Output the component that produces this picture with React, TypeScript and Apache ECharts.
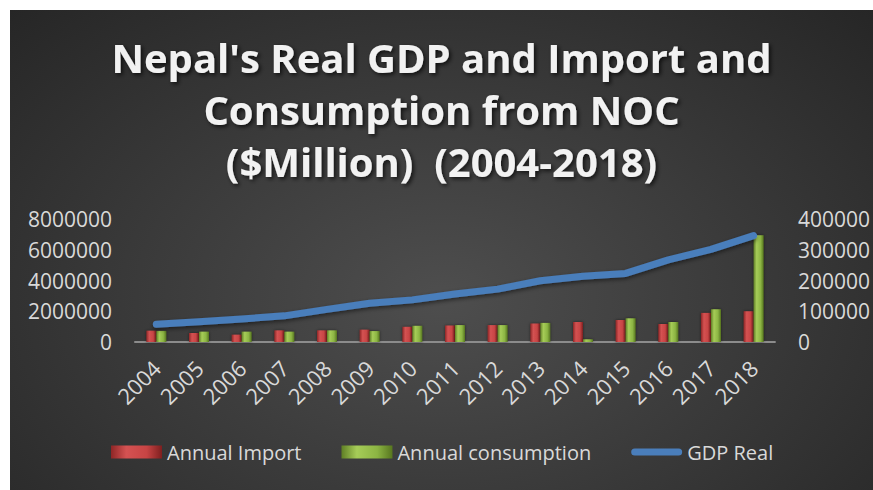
import React, { useEffect, useRef } from "react";
import * as echarts from "echarts";

const years = ["2004","2005","2006","2007","2008","2009","2010","2011","2012","2013","2014","2015","2016","2017","2018"];
const annualImport = [735000, 585000, 475000, 755000, 755000, 800000, 985000, 1070000, 1100000, 1200000, 1300000, 1430000, 1170000, 1890000, 2000000];
const annualConsumption = [720000, 670000, 670000, 670000, 755000, 710000, 1050000, 1100000, 1100000, 1240000, 175000, 1540000, 1300000, 2130000, 6940000];
const gdpReal = [57500, 66000, 75000, 85000, 106000, 126000, 137000, 156000, 172000, 199000, 214000, 223000, 267000, 301000, 346000];
const leftTicks = { min: 0, max: 8000000, interval: 2000000 };
const rightTicks = { min: 0, max: 400000, interval: 100000 };

const FONT = "'Open Sans', 'Noto Sans', sans-serif";
const TXT = "#d9d9d9";

export default function App() {
  const ref = useRef<HTMLDivElement>(null);
  useEffect(() => {
    if (!ref.current) return;
    const chart = echarts.init(ref.current, null, { renderer: "svg" });
    const redGrad = new echarts.graphic.LinearGradient(0, 0, 1, 0, [
      { offset: 0, color: "#8e2626" },
      { offset: 0.3, color: "#d45252" },
      { offset: 0.7, color: "#c84444" },
      { offset: 1, color: "#7e1f1f" },
    ]);
    const greenGrad = new echarts.graphic.LinearGradient(0, 0, 1, 0, [
      { offset: 0, color: "#5f7f25" },
      { offset: 0.3, color: "#a6cc58" },
      { offset: 0.7, color: "#8cb543" },
      { offset: 1, color: "#57761f" },
    ]);
    chart.setOption({
      animation: false,
      backgroundColor: "transparent",
      textStyle: { fontFamily: FONT },
      title: {
        text: "Nepal's Real GDP and Import and\nConsumption from NOC\n($Million)  (2004-2018)",
        left: "center",
        top: 21,
        padding: 0,
        textStyle: {
          fontFamily: FONT,
          fontSize: 40,
          fontWeight: "bold",
          color: "#f2f2f2",
          lineHeight: 52,
          textShadowColor: "rgba(0,0,0,0.7)",
          textShadowBlur: 4,
          textShadowOffsetX: 2,
          textShadowOffsetY: 2,
        },
      },
      legend: {
        left: 96,
        top: 427,
        itemGap: 40,
        itemWidth: 51,
        itemHeight: 13,
        textStyle: { color: TXT, fontSize: 20, fontFamily: FONT },
        data: [
          { name: "Annual Import", icon: "rect" },
          { name: "Annual consumption", icon: "rect" },
          {
            name: "GDP Real",
            icon: "path://M4,0 L53,0 A4,4 0 0 1 53,8 L4,8 A4,4 0 0 1 4,0 Z",
            itemStyle: { color: "#4a7ebb", borderWidth: 0 },
          },
        ],
      },
      grid: { left: 125, right: 90, top: 209, bottom: 148 },
      xAxis: {
        type: "category",
        data: years,
        axisLine: { lineStyle: { color: "#8c8c8c", width: 2 } },
        axisTick: { show: false },
        axisLabel: { color: TXT, fontSize: 22, rotate: 45, margin: 22, interval: 0 },
      },
      yAxis: [
        {
          type: "value",
          ...leftTicks,
          splitLine: { show: false },
          axisLine: { show: false },
          axisTick: { show: false },
          axisLabel: { color: TXT, fontSize: 21, margin: 23, formatter: (v: number) => String(v) },
        },
        {
          type: "value",
          ...rightTicks,
          splitLine: { show: false },
          axisLine: { show: false },
          axisTick: { show: false },
          axisLabel: { color: TXT, fontSize: 21, margin: 23, formatter: (v: number) => String(v) },
        },
      ],
      series: [
        {
          name: "Annual Import",
          type: "bar",
          data: annualImport,
          barWidth: 10,
          barGap: "0%",
          itemStyle: { color: redGrad, shadowColor: "rgba(0,0,0,0.5)", shadowBlur: 3 },
        },
        {
          name: "Annual consumption",
          type: "bar",
          data: annualConsumption,
          barWidth: 10,
          barGap: "0%",
          itemStyle: { color: greenGrad, shadowColor: "rgba(0,0,0,0.5)", shadowBlur: 3 },
        },
        {
          name: "GDP Real",
          type: "line",
          yAxisIndex: 1,
          data: gdpReal,
          symbol: "none",
          itemStyle: { color: "#4a7ebb" },
          lineStyle: {
            color: "#4a7ebb",
            width: 7,
            cap: "round",
            join: "round",
            shadowColor: "rgba(0,0,0,0.5)",
            shadowBlur: 4,
            shadowOffsetY: 2,
          },
        },
      ],
    });
    return () => chart.dispose();
  }, []);
  return (
    <div
      ref={ref}
      style={{
        position: "absolute",
        left: 10,
        top: 10,
        width: 863,
        height: 480,
        background: "radial-gradient(ellipse at 50% 60%, #4e4e4e 0%, #3c3c3c 45%, #262626 100%)",
      }}
    />
  );
}
